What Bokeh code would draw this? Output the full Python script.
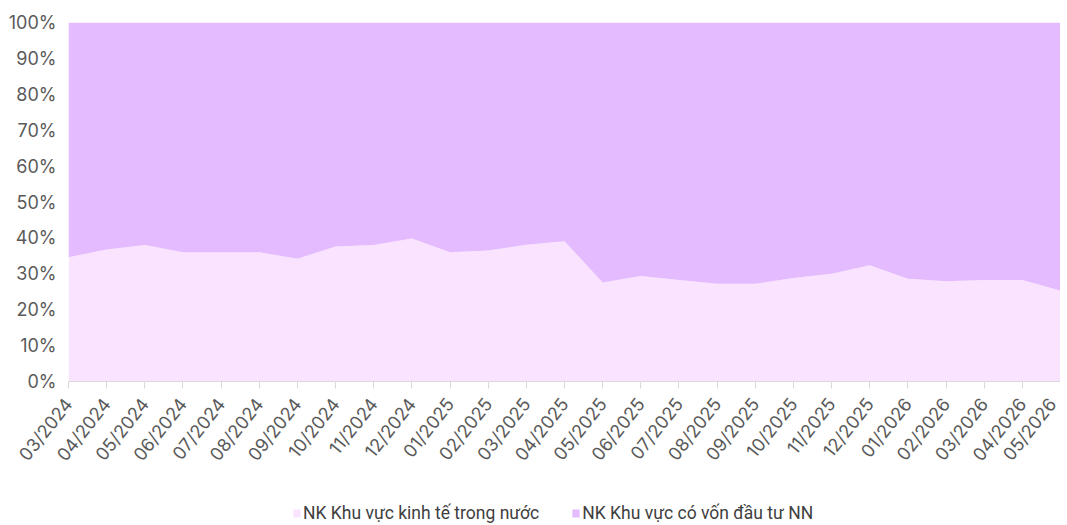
from bokeh.plotting import figure
from bokeh.models import ColumnDataSource, Range1d, FixedTicker, Legend, LegendItem, PrintfTickFormatter
from bokeh.layouts import column
from bokeh.embed import file_html
from bokeh.resources import INLINE
import math

months = ["03/2024", "04/2024", "05/2024", "06/2024", "07/2024", "08/2024", "09/2024",
          "10/2024", "11/2024", "12/2024", "01/2025", "02/2025", "03/2025", "04/2025",
          "05/2025", "06/2025", "07/2025", "08/2025", "09/2025", "10/2025", "11/2025",
          "12/2025", "01/2026", "02/2026", "03/2026", "04/2026", "05/2026"]
domestic = [34.6, 36.8, 38.0, 36.0, 36.0, 36.0, 34.2, 37.6, 38.0, 39.8, 36.0, 36.5, 38.1, 39.1,
            27.6, 29.4, 28.3, 27.2, 27.2, 28.8, 30.0, 32.4, 28.6, 27.9, 28.3, 28.3, 25.3]
foreign = [round(100 - d, 1) for d in domestic]
y_ticks = [0, 10, 20, 30, 40, 50, 60, 70, 80, 90, 100]
series_names = ["NK Khu vực kinh tế trong nước", "NK Khu vực có vốn đầu tư NN"]
colors = ["#F9E3FE", "#E4BBFE"]

xs = list(range(len(months)))
source = ColumnDataSource(dict(x=xs, dom=domestic, fdi=foreign))

p = figure(width=1060, height=481, output_backend="svg", toolbar_location=None,
           x_range=Range1d(0, len(months) - 1), y_range=Range1d(0, 100),
           min_border_left=68, min_border_right=0, min_border_top=22, min_border_bottom=100)
p.outline_line_color = None
p.xgrid.grid_line_color = None
p.ygrid.grid_line_color = None

rs = p.varea_stack(["dom", "fdi"], x="x", source=source, color=colors)

font = "Inter"
p.xaxis.ticker = FixedTicker(ticks=xs)
p.xaxis.major_label_overrides = {i: m for i, m in enumerate(months)}
p.xaxis.major_label_orientation = 0.9
p.xaxis.major_label_text_font = font
p.xaxis.major_label_text_font_size = "18px"
p.xaxis.major_label_text_color = "#5a5a5a"
p.xaxis.major_label_standoff = 12
p.xaxis.axis_line_color = "#d9d9d9"
p.xaxis.major_tick_line_color = "#d9d9d9"
p.xaxis.major_tick_in = 0
p.xaxis.major_tick_out = 7
p.xaxis.minor_tick_line_color = None

p.yaxis.ticker = FixedTicker(ticks=y_ticks)
p.yaxis.formatter = PrintfTickFormatter(format="%d%%")
p.yaxis.major_label_text_font = font
p.yaxis.major_label_text_font_size = "18px"
p.yaxis.major_label_text_color = "#5a5a5a"
p.yaxis.axis_line_color = None
p.yaxis.major_tick_line_color = None
p.yaxis.minor_tick_line_color = None
p.yaxis.major_label_standoff = 6

# legend strip below the chart
lf = figure(width=1060, height=44, output_backend="svg", toolbar_location=None,
            x_axis_type=None, y_axis_type=None, x_range=Range1d(0, 1), y_range=Range1d(0, 1),
            min_border_left=0, min_border_right=0, min_border_top=0, min_border_bottom=0)
lf.outline_line_color = None
lf.xgrid.grid_line_color = None
lf.ygrid.grid_line_color = None
dummies = [lf.quad(left=[5], right=[6], bottom=[5], top=[6], fill_color=c, line_color=None)
           for c in colors]

legend = Legend(items=[LegendItem(label=series_names[i], renderers=[dummies[i]]) for i in range(2)],
                orientation="horizontal", location=(224, 2))
legend.glyph_width = 9
legend.glyph_height = 10
legend.label_text_font = "Roboto"
legend.label_text_font_size = "17.5px"
legend.label_text_color = "#404040"
legend.border_line_color = None
legend.background_fill_alpha = 0
legend.spacing = 32
legend.label_standoff = 2
legend.padding = 2
legend.margin = 0
lf.add_layout(legend, "center")

layout = column(p, lf, spacing=0)
open("out.html", "w").write(file_html(layout, INLINE))
